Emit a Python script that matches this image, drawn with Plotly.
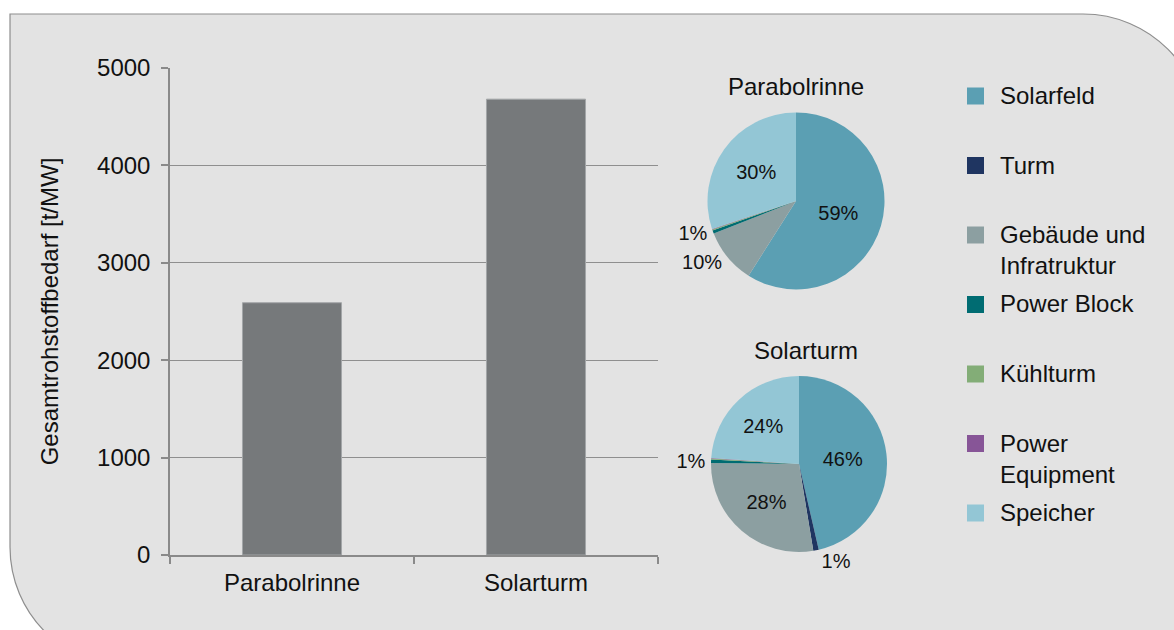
import plotly.graph_objects as go

W, H = 1174, 630

# ---- data ----
technologies = ["Parabolrinne", "Solarturm"]
total_demand = [2590, 4680]  # t/MW

components = ["Solarfeld", "Turm", "Gebäude und<br>Infratruktur", "Power Block",
              "Kühlturm", "Power<br>Equipment", "Speicher"]
share_parabolrinne = [59.0, 0.0, 10.0, 0.6, 0.2, 0.1, 30.1]   # %
share_solarturm = [46.4, 1.0, 27.8, 0.6, 0.2, 0.1, 23.9]      # %

y_ticks = [0, 1000, 2000, 3000, 4000, 5000]

# ---- styling ----
comp_colors = ["#5B9FB3", "#1F3561", "#8C9FA1", "#006C72",
               "#83AD77", "#875597", "#93C6D5"]
FONT = "Liberation Sans, Arial, sans-serif"
TXT = "#111111"
FS = 24


def px(x):
    return x / W


def py(y):
    return 1 - y / H


fig = go.Figure()

fig.add_trace(go.Bar(
    x=technologies, y=total_demand,
    marker=dict(color="#76797B", line=dict(color="#A3A6A8", width=1)),
    xaxis="x", yaxis="y", showlegend=False, hoverinfo="x+y",
))


def pie_trace(values, center, r, text_pos, show):
    cx, cy = center
    tmpl = ["%{percent:.0%}" if s else "" for s in show]
    return go.Pie(
        labels=components, values=values, sort=False, direction="clockwise",
        rotation=0, marker=dict(colors=comp_colors, line=dict(width=0)),
        domain=dict(x=[px(cx - r), px(cx + r)], y=[py(cy + r), py(cy - r)]),
        texttemplate=tmpl, textposition=text_pos,
        insidetextorientation="horizontal",
        textfont=dict(family=FONT, size=20, color=TXT),
        showlegend=False, hoverinfo="label+percent", automargin=False,
    )


fig.add_trace(pie_trace(
    share_parabolrinne, (796, 201), 88.5,
    ["inside", "none", "outside", "outside", "none", "none", "inside"],
    [True, False, True, True, False, False, True]))
fig.add_trace(pie_trace(
    share_solarturm, (799, 464), 88,
    ["inside", "outside", "inside", "outside", "none", "none", "inside"],
    [True, True, True, True, False, False, True]))

# ---- background panel with rounded corners ----
k = 0.5523
R = 120
x0, y0 = 10, 14
x1, y1 = 1203, 667


def P(x, y):
    return f"{px(x):.5f},{py(y):.5f}"


path = (
    f"M {P(x0, y0)} "
    f"L {P(x1 - R, y0)} "
    f"C {P(x1 - R + k * R, y0)} {P(x1, y0 + R - k * R)} {P(x1, y0 + R)} "
    f"L {P(x1, y1)} "
    f"L {P(x0 + R, y1)} "
    f"C {P(x0 + R - k * R, y1)} {P(x0, y1 - R + k * R)} {P(x0, y1 - R)} Z"
)
shapes = [dict(type="path", path=path, xref="paper", yref="paper",
               fillcolor="#E3E3E3", line=dict(color="#8E8E8E", width=1.2),
               layer="below")]

annotations = [
    dict(text="Parabolrinne", x=px(796), y=py(87), xref="paper", yref="paper",
         showarrow=False, xanchor="center", yanchor="middle",
         font=dict(family=FONT, size=FS, color=TXT)),
    dict(text="Solarturm", x=px(806), y=py(350), xref="paper", yref="paper",
         showarrow=False, xanchor="center", yanchor="middle",
         font=dict(family=FONT, size=FS, color=TXT)),
]

# ---- legend (drawn manually for the wide item spacing) ----
leg_y0, leg_pitch, sq = 96, 69.5, 17
for i, (name, col) in enumerate(zip(components, comp_colors)):
    yc = leg_y0 + i * leg_pitch
    shapes.append(dict(type="rect", xref="paper", yref="paper",
                       x0=px(967), x1=px(967 + sq),
                       y0=py(yc + sq / 2), y1=py(yc - sq / 2),
                       fillcolor=col, line=dict(width=0), layer="above"))
    annotations.append(dict(
        text=name, x=px(998), y=py(yc - 16), xref="paper", yref="paper",
        showarrow=False, xanchor="left", yanchor="top", align="left",
        font=dict(family=FONT, size=FS, color=TXT)))

fig.update_layout(
    width=W, height=H, autosize=False,
    margin=dict(l=0, r=0, t=0, b=0, pad=0, autoexpand=False),
    paper_bgcolor="white", plot_bgcolor="rgba(0,0,0,0)",
    font=dict(family=FONT, size=FS, color=TXT),
    showlegend=False,
    bargap=0.594,
    shapes=shapes, annotations=annotations,
    xaxis=dict(domain=[px(170), px(658)], automargin=False,
               showline=True, linecolor="#8A8A8A",
               linewidth=1.5, ticks="outside", tickson="boundaries", ticklen=7,
               tickcolor="#8A8A8A", tickwidth=1.5, showgrid=False,
               ticklabelstandoff=5, tickfont=dict(size=FS, color=TXT),
               fixedrange=True),
    yaxis=dict(domain=[py(555), py(68)], automargin=False,
               range=[0, 5000], tickvals=y_ticks,
               showline=True, linecolor="#8A8A8A", linewidth=1.5,
               ticks="outside", ticklen=7, tickcolor="#8A8A8A", tickwidth=1.5,
               showgrid=True, gridcolor="#8F8F8F", gridwidth=1.3,
               zeroline=False, ticklabelstandoff=6,
               tickfont=dict(size=FS, color=TXT),
               title=dict(text="Gesamtrohstoffbedarf [t/MW]", standoff=32,
                          font=dict(size=FS, color=TXT)),
               fixedrange=True),
)

fig.write_html("out.html")
